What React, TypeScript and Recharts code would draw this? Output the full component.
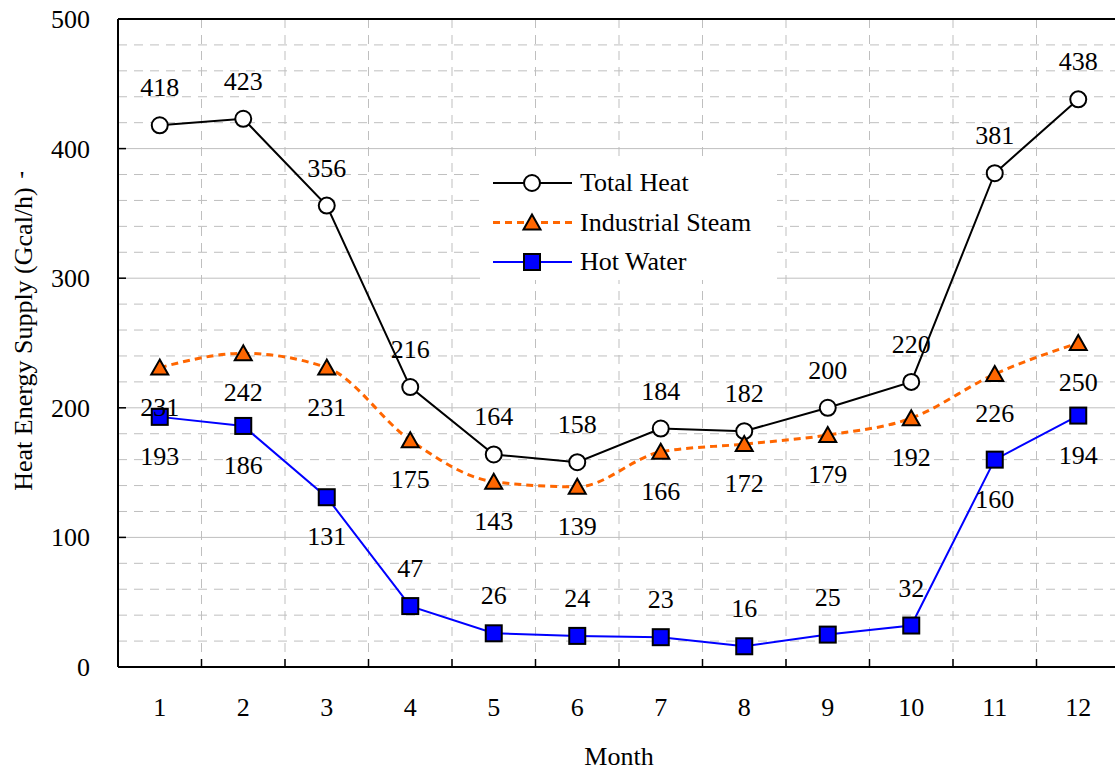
import React from 'react';
import { LineChart, Line, XAxis, YAxis, CartesianGrid, ReferenceLine, Legend } from 'recharts';

const months = [1, 2, 3, 4, 5, 6, 7, 8, 9, 10, 11, 12];
const totalHeat = [418, 423, 356, 216, 164, 158, 184, 182, 200, 220, 381, 438];
const industrialSteam = [231, 242, 231, 175, 143, 139, 166, 172, 179, 192, 226, 250];
const hotWater = [193, 186, 131, 47, 26, 24, 23, 16, 25, 32, 160, 194];

const yTicks = [0, 100, 200, 300, 400, 500];
const yMajorGrid = [100, 200, 300, 400];
const yMinorGrid = [20, 40, 60, 80, 120, 140, 160, 180, 220, 240, 260, 280, 320, 340, 360, 380, 420, 440, 460, 480];
const monthBoundaries = [1.5, 2.5, 3.5, 4.5, 5.5, 6.5, 7.5, 8.5, 9.5, 10.5, 11.5];

// label placement relative to the point
const totalLabelSide = ['above', 'above', 'above', 'above', 'above', 'above', 'above', 'above', 'above', 'above', 'above', 'above'];
const steamLabelSide = ['below', 'below', 'below', 'below', 'below', 'below', 'below', 'below', 'below', 'below', 'below', 'below'];
const hotLabelSide = ['below', 'below', 'below', 'above', 'above', 'above', 'above', 'above', 'above', 'above', 'below', 'below'];

const data = months.map((m, i) => ({
  month: m,
  total: totalHeat[i],
  steam: industrialSteam[i],
  hot: hotWater[i],
}));

const FONT = '"Liberation Serif", "Times New Roman", serif';
const FS = 26;
const ORANGE = '#FF6600';
const BLUE = '#0000FF';
const GRID = '#BFBFBF';

const Circle = ({ cx, cy }: any) => (
  <circle cx={cx} cy={cy} r={8} fill="#fff" stroke="#000" strokeWidth={2} />
);
const Triangle = ({ cx, cy }: any) => (
  <polygon
    points={`${cx},${cy - 8} ${cx - 8.5},${cy + 7} ${cx + 8.5},${cy + 7}`}
    fill={ORANGE}
    stroke="#000"
    strokeWidth={2}
    strokeLinejoin="miter"
  />
);
const Square = ({ cx, cy }: any) => (
  <rect x={cx - 8} y={cy - 8} width={16} height={16} fill={BLUE} stroke="#000" strokeWidth={2} />
);

const makeDot = (Shape: any, name: string) => (props: any) => (
  <Shape key={`${name}-${props.index}`} cx={props.cx} cy={props.cy} />
);

const makeLabel = (sides: string[], name: string) => (props: any) => {
  const { x, y, value, index } = props;
  const dy = sides[index] === 'above' ? -29 : 48;
  return (
    <text
      key={`${name}-lbl-${index}`}
      x={x}
      y={y + dy}
      textAnchor="middle"
      fontFamily={FONT}
      fontSize={FS}
      fill="#000"
    >
      {value}
    </text>
  );
};

const XTick = (props: any) => {
  const { x, y, payload } = props;
  const v = payload.value;
  if (Number.isInteger(v)) {
    return (
      <text x={x} y={y + 49} textAnchor="middle" fontFamily={FONT} fontSize={FS} fill="#000">
        {v}
      </text>
    );
  }
  return <line x1={x} x2={x} y1={y} y2={y - 8} stroke="#000" strokeWidth={1.5} />;
};

const YTick = (props: any) => {
  const { x, y, payload } = props;
  return (
    <g>
      <text x={x - 28} y={y + 9} textAnchor="end" fontFamily={FONT} fontSize={FS} fill="#000">
        {payload.value}
      </text>
      <line x1={x} x2={x + 8} y1={y} y2={y} stroke="#000" strokeWidth={1.5} />
    </g>
  );
};

const legendRows = [
  { name: 'Total Heat', color: '#000', dash: undefined, width: 2, Shape: Circle },
  { name: 'Industrial Steam', color: ORANGE, dash: '7 5', width: 3, Shape: Triangle },
  { name: 'Hot Water', color: BLUE, dash: undefined, width: 2, Shape: Square },
];

const LegendContent = () => (
  <svg width={297} height={120} style={{ display: 'block' }}>
    {legendRows.map((r, i) => {
      const cy = 23 + i * 39.5;
      return (
        <g key={r.name}>
          <line x1={13} x2={92} y1={cy} y2={cy} stroke={r.color} strokeWidth={r.width} strokeDasharray={r.dash} />
          <r.Shape cx={52} cy={cy} />
          <text x={100} y={cy + 8} fontFamily={FONT} fontSize={FS} fill="#000">
            {r.name}
          </text>
        </g>
      );
    })}
  </svg>
);

const YLabel = (props: any) => {
  const vb = props.viewBox || { x: 0, y: 19, width: 118, height: 648 };
  const cx = vb.x + 32;
  const cy = vb.y + vb.height / 2 - 4;
  return (
    <g>
      <text
        x={cx}
        y={cy}
        transform={`rotate(-90 ${cx} ${cy})`}
        textAnchor="middle"
        fontFamily={FONT}
        fontSize={FS}
        fill="#000"
      >
        Heat Energy Supply (Gcal/h)
      </text>
      <text x={vb.x + 22} y={vb.y + 170} textAnchor="middle" fontFamily={FONT} fontSize={FS} fill="#000">
        '
      </text>
    </g>
  );
};

const XLabel = (props: any) => {
  const vb = props.viewBox || { x: 118, y: 667, width: 1002, height: 104 };
  return (
    <text x={vb.x + vb.width / 2} y={vb.y + 98} textAnchor="middle" fontFamily={FONT} fontSize={FS} fill="#000">
      Month
    </text>
  );
};

const xTicks = [...months, ...monthBoundaries].sort((a, b) => a - b);

export default function App() {
  return (
    <div
      style={{
        position: 'fixed',
        left: 0,
        top: 0,
        width: 1115,
        height: 771,
        overflow: 'hidden',
        background: '#fff',
      }}
    >
      <LineChart width={1125} height={771} data={data} margin={{ top: 19, right: 5, left: 0, bottom: 0 }}>
        <CartesianGrid
          stroke={GRID}
          strokeDasharray="9 7"
          horizontalValues={yMinorGrid}
          verticalValues={monthBoundaries}
        />
        <CartesianGrid stroke={GRID} horizontalValues={yMajorGrid} vertical={false} />
        <XAxis
          dataKey="month"
          type="number"
          domain={[0.5, 12.5]}
          ticks={xTicks}
          interval={0}
          tickSize={0}
          tickMargin={0}
          tickLine={false}
          tick={<XTick />}
          axisLine={{ stroke: '#000', strokeWidth: 2 }}
          height={104}
          allowDataOverflow
          label={{ content: <XLabel /> } as any}
        />
        <YAxis
          domain={[0, 500]}
          ticks={yTicks}
          interval={0}
          tickSize={0}
          tickMargin={0}
          tickLine={false}
          tick={<YTick />}
          axisLine={{ stroke: '#000', strokeWidth: 2 }}
          width={118}
          allowDataOverflow
          label={{ content: <YLabel /> } as any}
        />
        <ReferenceLine y={500} stroke="#000" strokeWidth={2} />
        <Legend
          layout="vertical"
          align="center"
          verticalAlign="middle"
          content={<LegendContent />}
          wrapperStyle={{ position: 'absolute', left: 480, top: 160, width: 297, height: 120, background: '#fff' }}
        />
        <Line
          dataKey="total"
          name="Total Heat"
          type="linear"
          stroke="#000"
          strokeWidth={2}
          dot={makeDot(Circle, 'total')}
          activeDot={false}
          label={makeLabel(totalLabelSide, 'total')}
          isAnimationActive={false}
        />
        <Line
          dataKey="steam"
          name="Industrial Steam"
          type="monotone"
          stroke={ORANGE}
          strokeWidth={3}
          strokeDasharray="7 5"
          dot={makeDot(Triangle, 'steam')}
          activeDot={false}
          label={makeLabel(steamLabelSide, 'steam')}
          isAnimationActive={false}
        />
        <Line
          dataKey="hot"
          name="Hot Water"
          type="linear"
          stroke={BLUE}
          strokeWidth={2}
          dot={makeDot(Square, 'hot')}
          activeDot={false}
          label={makeLabel(hotLabelSide, 'hot')}
          isAnimationActive={false}
        />
      </LineChart>
    </div>
  );
}
